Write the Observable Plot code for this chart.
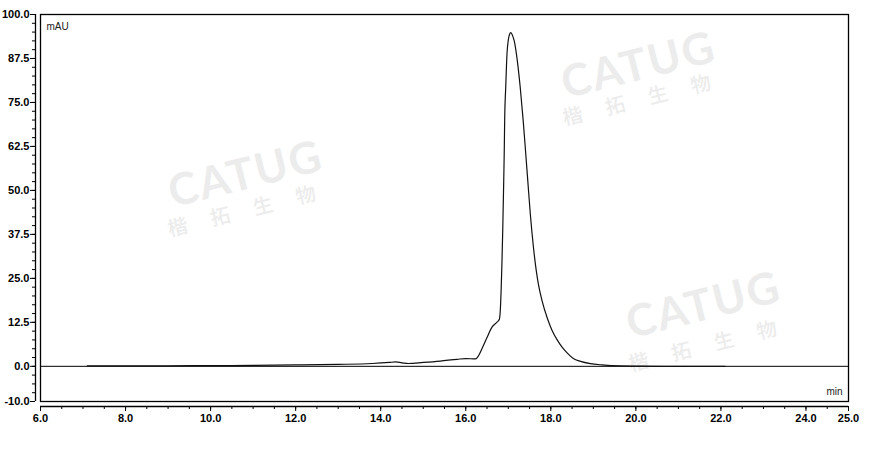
<!DOCTYPE html>
<html>
<head>
<meta charset="utf-8">
<script src="https://cdn.jsdelivr.net/npm/d3@7"></script>
<script src="https://cdn.jsdelivr.net/npm/@observablehq/plot@0.6"></script>
<style>
  html, body { margin: 0; padding: 0; background: #fff; }
  #chart svg { display: block; }
  #chart g[aria-label$="tick label"] text { font-weight: bold; }
</style>
</head>
<body>
<div id="chart"></div>
<script>
// Retention time (min) and absorbance (mAU)
const time = [7.1, 8.0, 9.0, 10.0, 11.0, 12.0, 13.0, 13.8, 14.2, 14.35, 14.5, 14.65, 15.0, 15.4, 15.8, 16.0, 16.23,
  16.3, 16.38, 16.5, 16.62, 16.74, 16.79, 16.81, 16.83, 16.85, 16.87, 16.893, 16.905, 16.915, 16.94, 16.97, 17.0,
  17.03, 17.06, 17.1, 17.14, 17.19, 17.28, 17.35, 17.41, 17.46, 17.52, 17.59, 17.66, 17.71, 17.79, 17.92, 18.03,
  18.15, 18.26, 18.4, 18.53, 18.7, 18.93, 19.2, 19.63, 20.0, 21.0, 22.1];
const mAU = [0.1, 0.15, 0.15, 0.2, 0.25, 0.4, 0.55, 0.8, 1.1, 1.25, 1.0, 0.8, 1.1, 1.5, 2.0, 2.2, 2.1,
  3.0, 5.0, 8.2, 11.2, 12.6, 13.4, 15.5, 21, 29, 39, 52.9, 61, 70, 79.4, 88.9, 92.7,
  94.4, 94.85, 94.0, 92.5, 88.9, 79.4, 69.9, 60.5, 52.5, 43, 34, 27, 23.2, 18.8, 13.6, 10.2,
  7.5, 5.5, 3.6, 2.2, 1.4, 0.77, 0.4, 0.1, 0.05, 0.0, 0.0];

const xMajor = [6, 8, 10, 12, 14, 16, 18, 20, 22, 24, 25];
const xMinor = d3.range(6, 25.001, 0.5);
const yMajor = [-10, 0, 12.5, 25, 37.5, 50, 62.5, 75, 87.5, 100];
const yMinor = d3.range(-10, 100.001, 2.5);

const xUnit = "min";
const yUnit = "mAU";
const wmBrand = "CATUG";
const wmChinese = "楷拓生物";

const trace = time.map((t, i) => ({t, v: mAU[i]}));

const chart = Plot.plot({
  width: 869,
  height: 449,
  marginLeft: 40,
  marginRight: 21,
  marginTop: 14,
  marginBottom: 48,
  x: {domain: [6, 25], label: null},
  y: {domain: [-10, 100], label: null},
  style: {fontFamily: "'Liberation Sans', Arial, sans-serif", fontSize: "11px", background: "#fff", color: "#000"},
  marks: [
    Plot.ruleY([0], {stroke: "#000", strokeWidth: 1}),
    Plot.line(trace, {x: "t", y: "v", curve: "monotone-x", stroke: "#111", strokeWidth: 1.2}),
    Plot.frame({stroke: "#000", strokeWidth: 1.3}),
    // offset axis lines
    Plot.ruleX([6], {dx: -5, stroke: "#000", strokeWidth: 1.3}),
    Plot.ruleY([-10], {dy: 5, stroke: "#000", strokeWidth: 1.3}),
    Plot.axisY(yMinor, {tickSize: 3, dx: -5, tickFormat: () => "", label: null}),
    Plot.axisY(yMajor, {tickSize: 5, dx: -5, tickPadding: 1, tickFormat: d => d.toFixed(1), fontWeight: "bold", fontSize: 11, label: null}),
    Plot.axisX(xMinor, {tickSize: 3, dy: 5, tickFormat: () => "", label: null}),
    Plot.axisX(xMajor, {tickSize: 5, dy: 5, tickPadding: 3, tickFormat: d => d.toFixed(1), fontWeight: "bold", fontSize: 11, label: null}),
    Plot.text([yUnit], {frameAnchor: "top-left", dx: 6, dy: 8, text: d => d, fill: "#222", fontSize: 10, textAnchor: "start"}),
    Plot.text([xUnit], {frameAnchor: "bottom-right", dx: -6, dy: -7, text: d => d, fill: "#222", fontSize: 10, textAnchor: "end"})
  ]
});

// Watermarks (decorative, behind the data)
const svg = d3.select(chart);
const wm = svg.insert("g", ":first-child").attr("aria-label", "watermark");
const spots = [
  {b: [245, 172], c: [253, 207]},
  {b: [638, 63], c: [648, 96]},
  {b: [703, 303], c: [714, 342]}
];
for (const s of spots) {
  wm.append("text")
    .attr("transform", `translate(${s.b[0]},${s.b[1]}) rotate(-14)`)
    .attr("text-anchor", "middle").attr("dominant-baseline", "central")
    .attr("font-family", "Lato, 'Open Sans', sans-serif").attr("font-weight", 700)
    .attr("font-size", 44).attr("letter-spacing", 2).attr("fill", "#ececec")
    .text(wmBrand);
  wm.append("text")
    .attr("transform", `translate(${s.c[0]},${s.c[1]}) rotate(-14)`)
    .attr("text-anchor", "middle").attr("dominant-baseline", "central")
    .attr("font-family", "'Noto Sans CJK SC', sans-serif").attr("font-weight", 500)
    .attr("font-size", 20).attr("letter-spacing", 24).attr("fill", "#ececec")
    .text(wmChinese);
}

document.getElementById("chart").append(chart);
</script>
</body>
</html>
